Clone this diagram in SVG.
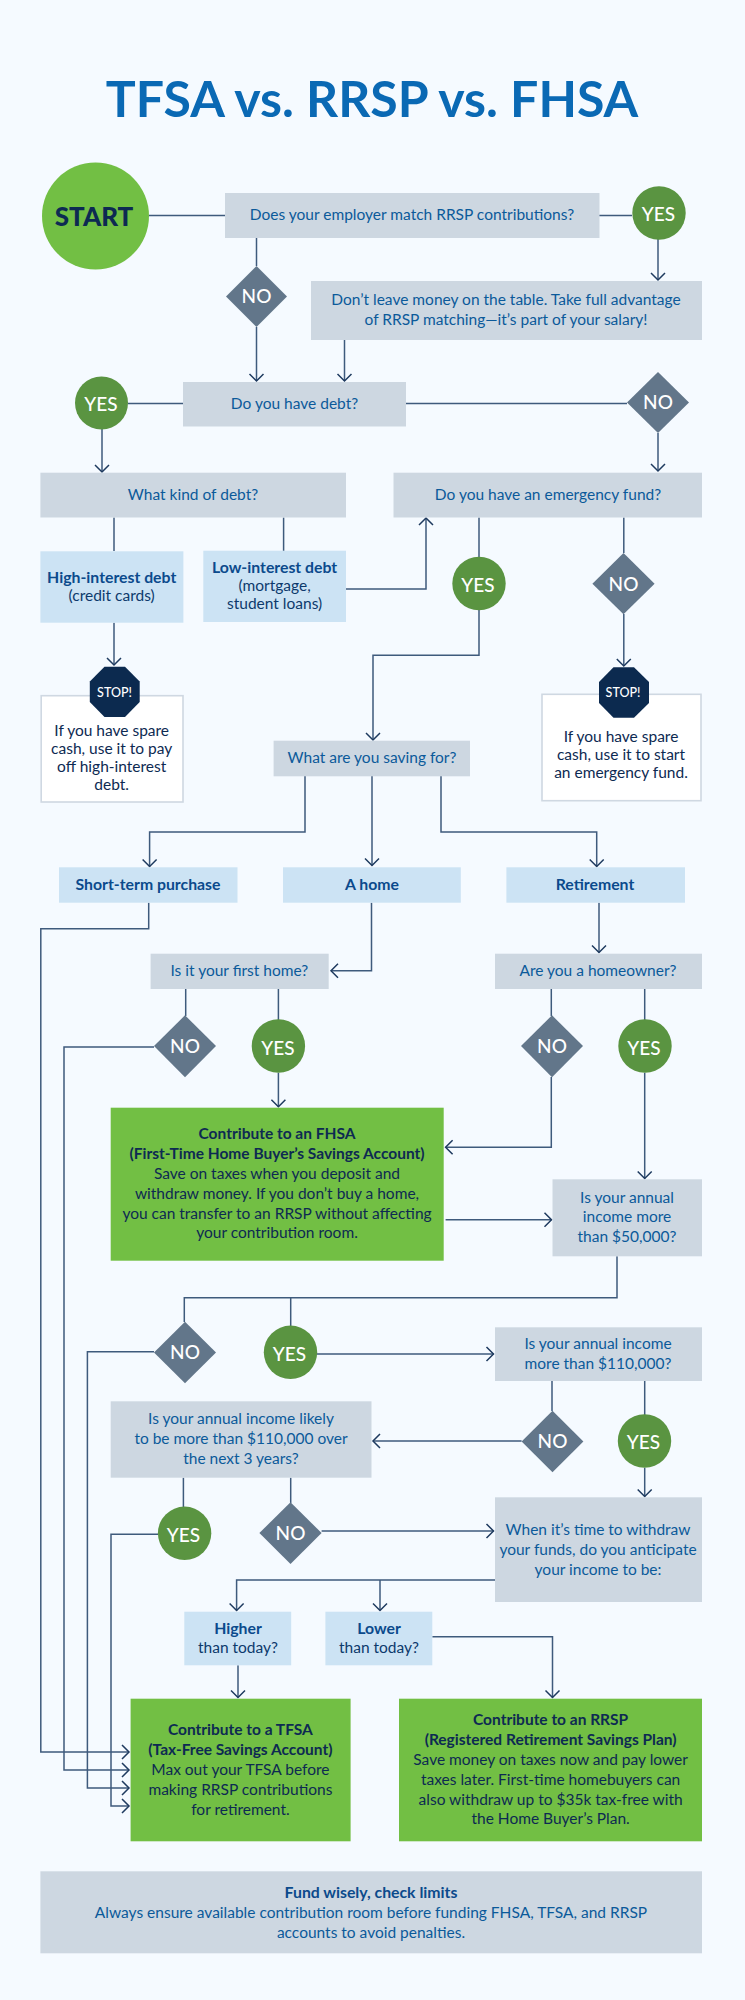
<svg xmlns="http://www.w3.org/2000/svg" width="745" height="2000" viewBox="0 0 745 2000">
<style>
text{font-family:"Lato","Liberation Sans",sans-serif;font-size:15.5px;text-anchor:middle;fill:#0b5a9a}
.title{font-size:50px;font-weight:700;fill:#0a69b4}
.q{fill:#cdd7e1}.opt{fill:#cce3f4}.act{fill:#72bf44}
.b{font-weight:700;fill:#0b4a8c;font-size:15.8px}
.d{fill:#0d2a52}.db{fill:#0d2a52;font-weight:700}
.dk{fill:#0d3a6c}
.yes{fill:#5a9441}.no{fill:#62768a}
.lbl{fill:#fff;font-size:19px;font-weight:500}
.stop{fill:#0c2a4f}.stopt{fill:#fff;font-size:12.5px;font-weight:500}
.note{fill:#fff;stroke:#cfd8e2;stroke-width:1.6}
.start{fill:#72bf44}.startt{fill:#0d2a52;font-size:26px;font-weight:900}
#connectors path{fill:none;stroke:#3e5a7c;stroke-width:1.5}
.ar{marker-end:url(#arrow)}
</style>
<defs>
<marker id="arrow" markerUnits="userSpaceOnUse" markerWidth="12" markerHeight="18" refX="9" refY="8" orient="auto">
<path d="M2,1 L9,8 L2,15" fill="none" stroke="#1e3a5f" stroke-width="1.5"/>
</marker>
</defs>
<rect width="745" height="2000" fill="#f5faff"/>
<text class="title" x="372" y="117">TFSA vs. RRSP vs. FHSA</text>
<g id="connectors">
<path d="M149,215.5H225"/>
<path d="M599,215.5H632"/>
<path d="M256.5,238V266"/>
<path class="ar" d="M256.5,327V381"/>
<path class="ar" d="M658,239V280"/>
<path class="ar" d="M344.5,340V381"/>
<path d="M128,403.5H183"/>
<path d="M406,403.5H627"/>
<path class="ar" d="M102,429V472"/>
<path class="ar" d="M658,433V471"/>
<path d="M114,517.5V551"/>
<path d="M283.6,517.5V551"/>
<path class="ar" d="M346,589H426V518"/>
<path d="M479,517.5V557"/>
<path class="ar" d="M479,610V655.3H373V740"/>
<path d="M623.8,517.5V553"/>
<path class="ar" d="M623.8,614V666"/>
<path class="ar" d="M114,622.7V665"/>
<path class="ar" d="M305,776V832H149.6V866.5"/>
<path class="ar" d="M372,776V865.5"/>
<path class="ar" d="M441,776V832H596.7V866.5"/>
<path class="ar" d="M148.7,902.7V928.7H40.8V1752H129"/>
<path class="ar" d="M371.5,902.7V970.7H331"/>
<path class="ar" d="M599,902.7V952.5"/>
<path d="M185.7,989V1016"/>
<path d="M278.4,989V1020"/>
<path d="M551.3,989V1016"/>
<path d="M644.7,989V1020"/>
<path class="ar" d="M154,1047H64V1770H129"/>
<path class="ar" d="M278.4,1072.7V1106.7"/>
<path class="ar" d="M551.3,1077V1147.3H445.6"/>
<path class="ar" d="M644.7,1072.7V1178.5"/>
<path class="ar" d="M445.6,1219.7H551.5"/>
<path d="M617,1256.3V1297.7H184.3V1322"/>
<path d="M290.7,1297.7V1326"/>
<path class="ar" d="M154,1351.7H87.4V1788H129"/>
<path class="ar" d="M316.5,1354H493.5"/>
<path d="M552,1381V1411"/>
<path d="M644.7,1381V1415"/>
<path class="ar" d="M521.6,1441H373"/>
<path class="ar" d="M644.7,1467.7V1496.5"/>
<path d="M183.4,1477.7V1507"/>
<path d="M290.7,1477.7V1503"/>
<path class="ar" d="M158,1534.3H111V1806H129"/>
<path class="ar" d="M321.6,1531H493.5"/>
<path class="ar" d="M495,1580H236.6V1610.5"/>
<path class="ar" d="M380,1580V1610.5"/>
<path class="ar" d="M432.3,1636.7H552.5V1697.5"/>
<path class="ar" d="M238,1665.3V1697.5"/>
</g>
<g id="start"><circle class="start" cx="95.5" cy="216" r="53.5"/><text class="startt" x="94" y="226">START</text></g>
<g id="q-employer"><rect class="q" x="225" y="193" width="374.5" height="45"/><text x="412" y="220">Does your employer match RRSP contributions?</text></g>
<g id="yes-employer"><circle class="yes" cx="659" cy="213" r="26.7"/><text class="lbl" x="658.5" y="221">YES</text></g>
<g id="no-employer"><path class="no" d="M256.5,266L287,296.5L256.5,327L226,296.5Z"/><text class="lbl" x="256.5" y="303">NO</text></g>
<g id="matching"><rect class="q" x="311" y="281" width="391" height="59"/><text x="506" y="305">Don’t leave money on the table. Take full advantage<tspan x="506" y="325">of RRSP matching—it’s part of your salary!</tspan></text></g>
<g id="q-debt"><rect class="q" x="183" y="382" width="223" height="44.5"/><text x="294.5" y="409">Do you have debt?</text></g>
<g id="yes-debt"><circle class="yes" cx="101.5" cy="403" r="26.5"/><text class="lbl" x="101" y="411">YES</text></g>
<g id="no-debt"><path class="no" d="M658,372L689,402.5L658,433L627,402.5Z"/><text class="lbl" x="658" y="409">NO</text></g>
<g id="q-kind"><rect class="q" x="40.4" y="472.7" width="305.6" height="44.8"/><text x="193" y="500">What kind of debt?</text></g>
<g id="q-emergency"><rect class="q" x="393.5" y="472.7" width="308.5" height="44.8"/><text x="548" y="500">Do you have an emergency fund?</text></g>
<g id="high-interest"><rect class="opt" x="40.4" y="551.3" width="143" height="71.4"/><text class="b" x="111.7" y="583">High-interest debt</text><text class="dk" x="111.7" y="601">(credit cards)</text></g>
<g id="low-interest"><rect class="opt" x="203.3" y="550.7" width="142.7" height="71.3"/><text class="b" x="274.6" y="573">Low-interest debt</text><text class="dk" x="274.6" y="591">(mortgage,<tspan x="274.6" y="609">student loans)</tspan></text></g>
<g id="yes-emergency"><circle class="yes" cx="479" cy="583.5" r="26.7"/><text class="lbl" x="478" y="591.5">YES</text></g>
<g id="no-emergency"><path class="no" d="M623.5,553L654.6,583.7L623.5,614.3L592.4,583.7Z"/><text class="lbl" x="623.5" y="590.5">NO</text></g>
<g id="note-debt"><rect class="note" x="41.2" y="695.7" width="141.8" height="106.3"/><text class="d" x="111.7" y="735.5">If you have spare<tspan x="111.7" y="753.5">cash, use it to pay</tspan><tspan x="111.7" y="771.5">off high-interest</tspan><tspan x="111.7" y="789.5">debt.</tspan></text></g>
<g id="stop-debt"><path class="stop" d="M104.5,666.7H125L139.7,681.5V702L125,717H104.5L89.8,702V681.5Z"/><text class="stopt" x="114.5" y="696.5">STOP!</text></g>
<g id="note-emergency"><rect class="note" x="542" y="694.3" width="159" height="106.4"/><text class="d" x="621" y="742">If you have spare<tspan x="621" y="760">cash, use it to start</tspan><tspan x="621" y="778">an emergency fund.</tspan></text></g>
<g id="stop-emergency"><path class="stop" d="M613.5,667.3H634L649,682V703L634,717.7H613.5L599,703V682Z"/><text class="stopt" x="623" y="697">STOP!</text></g>
<g id="q-saving"><rect class="q" x="273.6" y="740.7" width="196.4" height="35.6"/><text x="372" y="763">What are you saving for?</text></g>
<g id="short-term"><rect class="opt" x="59" y="867.3" width="178.5" height="35.4"/><text class="b" x="148" y="890">Short-term purchase</text></g>
<g id="a-home"><rect class="opt" x="283" y="867.3" width="177.8" height="35.4"/><text class="b" x="372" y="890">A home</text></g>
<g id="retirement"><rect class="opt" x="506.4" y="867.3" width="178.6" height="35.4"/><text class="b" x="595" y="890">Retirement</text></g>
<g id="q-first-home"><rect class="q" x="150.6" y="953.7" width="178.1" height="35.3"/><text x="239.4" y="976">Is it your first home?</text></g>
<g id="q-homeowner"><rect class="q" x="495" y="953.7" width="207" height="35.3"/><text x="598" y="976">Are you a homeowner?</text></g>
<g id="no-first-home"><path class="no" d="M185,1015.3L216,1046L185,1077.3L154,1046Z"/><text class="lbl" x="185" y="1052.5">NO</text></g>
<g id="yes-first-home"><circle class="yes" cx="278.4" cy="1046" r="26.7"/><text class="lbl" x="278" y="1054.5">YES</text></g>
<g id="no-homeowner"><path class="no" d="M552,1015.3L583,1046L552,1077.3L521,1046Z"/><text class="lbl" x="552" y="1052.5">NO</text></g>
<g id="yes-homeowner"><circle class="yes" cx="645" cy="1046" r="26.7"/><text class="lbl" x="644" y="1054.5">YES</text></g>
<g id="fhsa"><rect class="act" x="110.7" y="1107.7" width="333" height="153"/><text class="db" x="277" y="1139">Contribute to an FHSA<tspan x="277" y="1159">(First-Time Home Buyer’s Savings Account)</tspan></text><text class="d" x="277" y="1179">Save on taxes when you deposit and<tspan x="277" y="1199">withdraw money. If you don’t buy a home,</tspan><tspan x="277" y="1218.5">you can transfer to an RRSP without affecting</tspan><tspan x="277" y="1238">your contribution room.</tspan></text></g>
<g id="q-50k"><rect class="q" x="552.5" y="1179.3" width="149.5" height="77"/><text x="627" y="1203">Is your annual<tspan x="627" y="1222">income more</tspan><tspan x="627" y="1242">than $50,000?</tspan></text></g>
<g id="no-50k"><path class="no" d="M185,1321.7L216,1352.5L185,1383.3L154,1352.5Z"/><text class="lbl" x="185" y="1359">NO</text></g>
<g id="yes-50k"><circle class="yes" cx="290.5" cy="1352.3" r="26.7"/><text class="lbl" x="289.5" y="1360.5">YES</text></g>
<g id="q-110k"><rect class="q" x="495" y="1327.3" width="207" height="53.7"/><text x="598" y="1349">Is your annual income<tspan x="598" y="1368.5">more than $110,000?</tspan></text></g>
<g id="q-likely"><rect class="q" x="110.7" y="1401.3" width="260.8" height="76.4"/><text x="241" y="1424">Is your annual income likely<tspan x="241" y="1444">to be more than $110,000 over</tspan><tspan x="241" y="1464">the next 3 years?</tspan></text></g>
<g id="no-110k"><path class="no" d="M552.5,1410.7L583.4,1441.5L552.5,1472.3L521.6,1441.5Z"/><text class="lbl" x="552.5" y="1448">NO</text></g>
<g id="yes-110k"><circle class="yes" cx="644.5" cy="1441" r="26.7"/><text class="lbl" x="643.5" y="1449">YES</text></g>
<g id="yes-likely"><circle class="yes" cx="184.6" cy="1533.3" r="26.7"/><text class="lbl" x="183.5" y="1541.5">YES</text></g>
<g id="no-likely"><path class="no" d="M290.5,1502.3L321.6,1533L290.5,1564L259.4,1533Z"/><text class="lbl" x="290.5" y="1539.5">NO</text></g>
<g id="q-withdraw"><rect class="q" x="495" y="1497.3" width="207" height="104.7"/><text x="598" y="1534.5">When it’s time to withdraw<tspan x="598" y="1554.5">your funds, do you anticipate</tspan><tspan x="598" y="1574.5">your income to be:</tspan></text></g>
<g id="higher"><rect class="opt" x="184.3" y="1611.7" width="106.9" height="53.6"/><text class="b" x="238" y="1633.5">Higher</text><text class="dk" x="238" y="1652.5">than today?</text></g>
<g id="lower"><rect class="opt" x="325.4" y="1611.7" width="106.9" height="53.6"/><text class="b" x="379" y="1633.5">Lower</text><text class="dk" x="379" y="1652.5">than today?</text></g>
<g id="tfsa"><rect class="act" x="130.6" y="1698.7" width="220" height="142.6"/><text class="db" x="240.4" y="1734.5">Contribute to a TFSA<tspan x="240.4" y="1754.5">(Tax-Free Savings Account)</tspan></text><text class="d" x="240.4" y="1774.5">Max out your TFSA before<tspan x="240.4" y="1794.5">making RRSP contributions</tspan><tspan x="240.4" y="1814.5">for retirement.</tspan></text></g>
<g id="rrsp"><rect class="act" x="399" y="1698.7" width="303" height="142.6"/><text class="db" x="550.6" y="1725">Contribute to an RRSP<tspan x="550.6" y="1745">(Registered Retirement Savings Plan)</tspan></text><text class="d" x="550.6" y="1765">Save money on taxes now and pay lower<tspan x="550.6" y="1785">taxes later. First-time homebuyers can</tspan><tspan x="550.6" y="1804.5">also withdraw up to $35k tax-free with</tspan><tspan x="550.6" y="1824">the Home Buyer’s Plan.</tspan></text></g>
<g id="footer"><rect class="q" x="40.4" y="1871.3" width="661.6" height="82"/><text class="b" x="371" y="1897.5">Fund wisely, check limits</text><text x="371" y="1917.5">Always ensure available contribution room before funding FHSA, TFSA, and RRSP<tspan x="371" y="1937.5">accounts to avoid penalties.</tspan></text></g>
</svg>
